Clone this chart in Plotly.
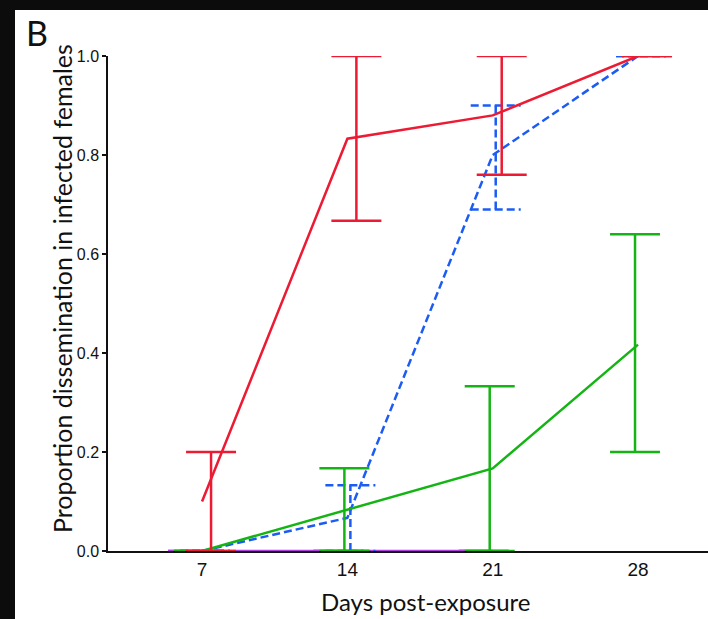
import plotly.graph_objects as go

# ---- data ----
days = [7, 14, 21, 28]
tick_labels = ["7", "14", "21", "28"]

red_mean = [0.10, 0.833, 0.88, 1.0]
red_lo = [0.0, 0.667, 0.76, 1.0]
red_hi = [0.20, 1.0, 1.0, 1.0]

blue_mean = [0.0, 0.067, 0.80, 1.0]
blue_lo = [0.0, 0.0, 0.69, 1.0]
blue_hi = [0.0, 0.133, 0.90, 1.0]

green_mean = [0.0, 0.083, 0.167, 0.417]
green_lo = [0.0, 0.0, 0.0, 0.20]
green_hi = [0.0, 0.167, 0.333, 0.64]

purple_days = [7, 14, 21]
purple_mean = [0.0, 0.0, 0.0]
purple_lo = [0.0, 0.0, 0.0]
purple_hi = [0.0, 0.0, 0.0]

# ---- layout geometry ----
W, H = 708, 619
ML, MR, MT, MB = 108, 0, 56, 68
XR = [2.47, 31.37]
px_per_day = (W - ML - MR) / (XR[1] - XR[0])
cap_half = 25 / px_per_day

RED = "#EC1B33"
BLUE = "#1C5CF5"
GREEN = "#14B414"
PURPLE = "#B43CE6"


def errbar_xy(xs, lo, hi, offset_px):
    off = offset_px / px_per_day
    X, Y = [], []
    for x, l, h in zip(xs, lo, hi):
        xc = x + off
        X += [xc, xc, None, xc - cap_half, xc + cap_half, None, xc - cap_half, xc + cap_half, None]
        Y += [l, h, None, l, l, None, h, h, None]
    return X, Y


fig = go.Figure()

series = [
    (purple_days, purple_mean, purple_lo, purple_hi, PURPLE, "solid", -9),
    (days, blue_mean, blue_lo, blue_hi, BLUE, "8px,4px", 3),
    (days, green_mean, green_lo, green_hi, GREEN, "solid", -3),
    (days, red_mean, red_lo, red_hi, RED, "solid", 9),
]

for xs, m, lo, hi, col, dash, off in series:
    ex, ey = errbar_xy(xs, lo, hi, off)
    fig.add_trace(go.Scatter(x=ex, y=ey, mode="lines",
                             line=dict(color=col, width=2.5, dash=dash),
                             cliponaxis=False, showlegend=False, hoverinfo="skip"))
    fig.add_trace(go.Scatter(x=xs, y=m, mode="lines",
                             line=dict(color=col, width=2.5, dash=dash),
                             cliponaxis=False, showlegend=False))

fig.update_layout(
    width=W, height=H,
    margin=dict(l=ML, r=MR, t=MT, b=MB),
    paper_bgcolor="white", plot_bgcolor="white",
    showlegend=False,
    font=dict(family="Liberation Sans, Arial, sans-serif", size=20, color="#111"),
    xaxis=dict(range=XR, tickvals=days, ticktext=tick_labels, showgrid=False,
               zeroline=False, showline=True, linecolor="#111", linewidth=1.5,
               ticks="", tickfont=dict(size=19)),
    yaxis=dict(range=[0, 1], tickvals=[0, 0.2, 0.4, 0.6, 0.8, 1.0], tickformat=".1f",
               showgrid=False, zeroline=False, showline=True, linecolor="#111",
               linewidth=1.5, ticks="outside", ticklen=4, tickwidth=1.5, tickcolor="#111",
               tickfont=dict(size=16)),
)


def px2paper(px, py):
    return (px - ML) / (W - ML - MR), (H - MB - py) / (H - MT - MB)


# black border on the top and left edges of the picture
x0, _ = px2paper(0, 0)
x1, _ = px2paper(15, 0)
x2, _ = px2paper(W, 0)
_, y0 = px2paper(0, H)
_, y1 = px2paper(0, 10)
_, y2 = px2paper(0, 0)
fig.add_shape(type="rect", xref="paper", yref="paper", x0=x0, x1=x1, y0=y0, y1=y2,
              fillcolor="#0c0c0c", line=dict(width=0), layer="above")
fig.add_shape(type="rect", xref="paper", yref="paper", x0=x0, x1=x2, y0=y1, y1=y2,
              fillcolor="#0c0c0c", line=dict(width=0), layer="above")

tfont = "Lato, Noto Sans, sans-serif"
ax, ay = px2paper(62, 289)
fig.add_annotation(text="Proportion dissemination in infected females", xref="paper", yref="paper",
                   x=ax, y=ay, xanchor="center", yanchor="middle", textangle=-90, showarrow=False,
                   font=dict(family=tfont, size=25, color="#111"))
bx, by = px2paper(425, 601)
fig.add_annotation(text="Days post-exposure", xref="paper", yref="paper",
                   x=bx, y=by, xanchor="center", yanchor="middle", showarrow=False,
                   font=dict(family=tfont, size=24, color="#111"))
cx, cy = px2paper(37, 33)
fig.add_annotation(text="B", xref="paper", yref="paper", x=cx, y=cy,
                   xanchor="center", yanchor="middle", showarrow=False,
                   font=dict(family=tfont, size=34, color="#111"))

fig.write_html("out.html")
